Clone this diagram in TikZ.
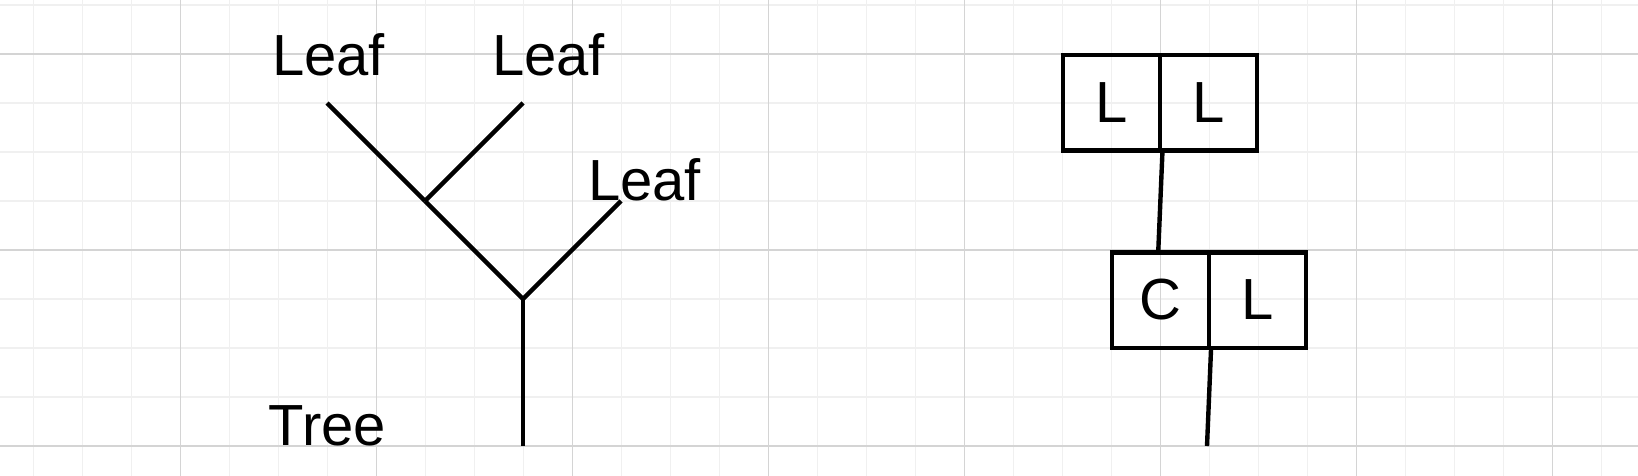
\documentclass[tikz,border=0pt]{standalone}
\usepackage{fontspec}
\setmainfont{Liberation Sans}
\definecolor{minorgrid}{RGB}{240,240,240}
\definecolor{majorgrid}{RGB}{212,212,212}
\tikzset{
  minorline/.style={draw=minorgrid, line width=0.75pt},
  majorline/.style={draw=majorgrid, line width=0.6pt},
  branch/.style={draw=black, line width=2.2pt},
  lbl/.style={inner sep=0pt, anchor=base, font=\fontsize{29}{34}\selectfont},
  cell/.style={draw=black, line width=2.2pt, inner sep=0pt, minimum width=48.5pt, minimum height=47.7pt, font=\fontsize{29}{34}\selectfont}
}
\begin{document}
\begin{tikzpicture}[x=0.5pt,y=-0.5pt]
\fill[white] (0,0) rectangle (1638,476);
\useasboundingbox (0,0) rectangle (1638,476);
% grid
\foreach \k in {0,...,33} { \draw[minorline] ({33.7+49*\k},0) -- ({33.7+49*\k},476); }
\foreach \k in {0,...,9} { \draw[minorline] (0,{5+49*\k}) -- (1638,{5+49*\k}); }
\foreach \k in {0,...,7} { \draw[majorline] ({180.7+196*\k},0) -- ({180.7+196*\k},476); }
\foreach \k in {0,...,2} { \draw[majorline] (0,{54+196*\k}) -- (1638,{54+196*\k}); }
% tree
\coordinate (l1) at (327,103);
\coordinate (l2) at (523,103);
\coordinate (l3) at (621,201);
\coordinate (f1) at (425,201);
\coordinate (f2) at (523,299);
\coordinate (root) at (523,446);
\draw[branch] (l1) -- (f1);
\draw[branch] (f1) -- (f2);
\draw[branch] (l2) -- (f1);
\draw[branch] (l3) -- (f2);
\draw[branch] (f2) -- (root);
\node[lbl] (leafa) at (328.5,76) {Leaf};
\node[lbl] (leafb) at (548.5,76) {Leaf};
\node[lbl] (leafc) at (644.5,200) {Leaf};
\node[lbl] (tree) at (327.5,445) {Tree};
% boxes
\node[cell] (tl) at (1111.7,103) {L};
\node[cell] (tr) at (1208.7,103) {L};
\node[cell] (bc) at (1160.3,300) {C};
\node[cell] (br) at (1257.3,300) {L};
\coordinate (bend) at (1207,446);
\draw[branch] (tl.south east) -- ([xshift=-1pt]bc.north);
\draw[branch] (bc.south east) -- (bend);
\end{tikzpicture}
\end{document}
